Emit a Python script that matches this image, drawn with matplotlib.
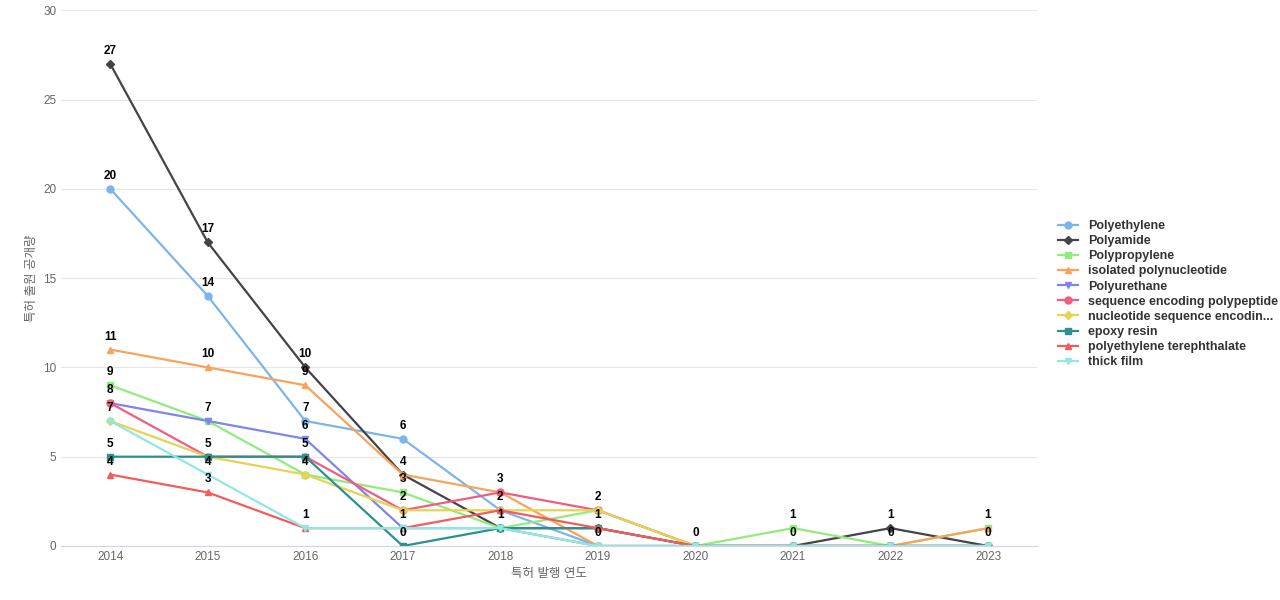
import matplotlib.pyplot as plt

plt.rcParams['font.family'] = ['Liberation Sans', 'Noto Sans CJK KR', 'DejaVu Sans']

years = [2014, 2015, 2016, 2017, 2018, 2019, 2020, 2021, 2022, 2023]
names = ['Polyethylene', 'Polyamide', 'Polypropylene', 'isolated polynucleotide',
         'Polyurethane', 'sequence encoding polypeptide', 'nucleotide sequence encodin...',
         'epoxy resin', 'polyethylene terephthalate', 'thick film']
polyethylene = [20, 14, 7, 6, 2, 0, 0, 0, 0, 0]
polyamide = [27, 17, 10, 4, 1, 1, 0, 0, 1, 0]
polypropylene = [9, 7, 4, 3, 1, 2, 0, 1, 0, 1]
isolated_pn = [11, 10, 9, 4, 3, 0, 0, 0, 0, 1]
polyurethane = [8, 7, 6, 1, 1, 0, 0, 0, 0, 0]
seq_polypeptide = [8, 5, 5, 2, 3, 2, 0, 0, 0, 0]
nucleotide_seq = [7, 5, 4, 2, 2, 2, 0, 0, 0, 0]
epoxy = [5, 5, 5, 0, 1, 1, 0, 0, 0, 0]
pet = [4, 3, 1, 1, 2, 1, 0, 0, 0, 0]
thick_film = [7, 4, 1, 1, 1, 0, 0, 0, 0, 0]
series = [polyethylene, polyamide, polypropylene, isolated_pn, polyurethane,
          seq_polypeptide, nucleotide_seq, epoxy, pet, thick_film]
colors = ['#7cb5ec', '#434348', '#90ed7d', '#f7a35c', '#8085e9',
          '#f15c80', '#e4d354', '#2b908f', '#f45b5b', '#91e8e1']
markers = ['o', 'D', 's', '^', 'v', 'o', 'D', 's', '^', 'v']

fig, ax = plt.subplots(figsize=(12.8, 6), dpi=100)
fig.subplots_adjust(left=0.048, right=0.81, top=0.983, bottom=0.09)
seen = set()
for name, vals, c, m in zip(names, series, colors, markers):
    ax.plot(years, vals, color=c, marker=m, markersize=5 if m != 'D' else 4,
            linewidth=1.6, label=name)
    for x, y in zip(years, vals):
        # overlapping labels are hidden, like the original
        if (x, y) in seen:
            continue
        seen.add((x, y))
        ax.annotate(str(y), (x, y), xytext=(0, 5), textcoords='offset points',
                    ha='center', va='bottom', fontsize=8.5, fontweight='bold')

ax.set_ylim(0, 30)
ax.set_xlim(2013.5, 2023.5)
ax.set_yticks(range(0, 31, 5))
ax.set_xticks(years)
ax.grid(axis='y', color='#e6e6e6')
ax.set_axisbelow(True)
for s in ['top', 'right', 'left']:
    ax.spines[s].set_visible(False)
ax.spines['bottom'].set_color('#ccd6eb')
ax.tick_params(length=0, labelsize=8.5, colors='#666666')
ax.set_xlabel('특허 발행 연도', color='#666666', fontsize=9)
ax.set_ylabel('특허 출원 공개량', color='#666666', fontsize=9)
leg = ax.legend(loc='center left', bbox_to_anchor=(1.01, 0.47), frameon=False,
                fontsize=9, handlelength=1.6, labelspacing=0.25)
for t in leg.get_texts():
    t.set_fontweight('bold')
    t.set_color('#333333')
fig.savefig('out.png')
